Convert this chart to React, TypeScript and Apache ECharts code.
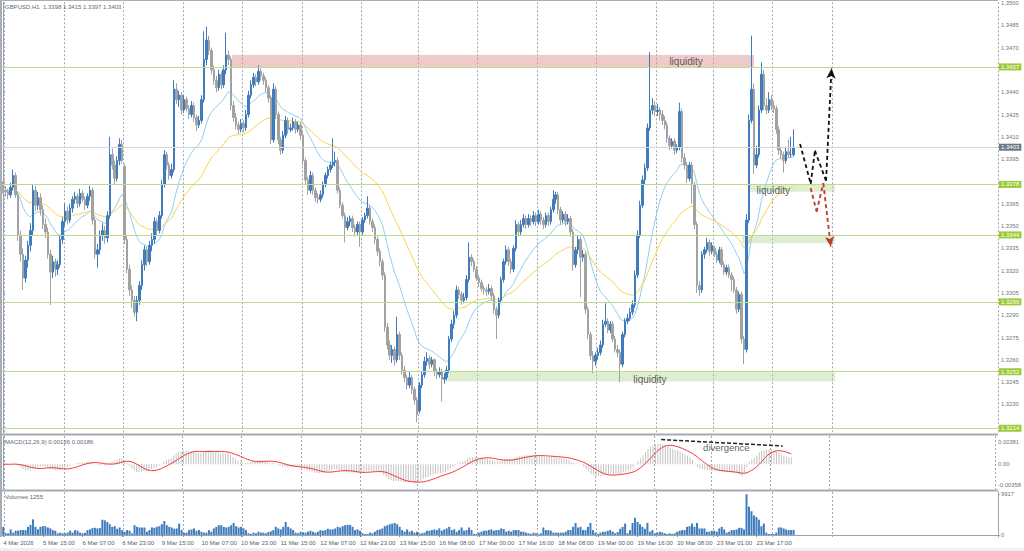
import React, { useEffect, useRef } from "react";
import * as echarts from "echarts";

// ---------- time axis (H1 bars, trading hours only) ----------
const tradingDays: [string, number, number][] = [
  ["4 Mar", 23, 23], ["5 Mar", 0, 23], ["6 Mar", 0, 23], ["9 Mar", 0, 23], ["10 Mar", 0, 23],
  ["11 Mar", 0, 23], ["12 Mar", 0, 23], ["13 Mar", 0, 22], ["16 Mar", 0, 23], ["17 Mar", 0, 23],
  ["18 Mar", 0, 23], ["19 Mar", 0, 23], ["20 Mar", 0, 22], ["23 Mar", 0, 23], ["24 Mar", 0, 23],
  ["25 Mar", 0, 23], ["26 Mar", 0, 23], ["27 Mar", 0, 22],
];
const SLOT_COUNT = 402;
const LAST_GRID_SLOT = 335;
const LABEL_STEP = 16;
const LAST_LABEL_SLOT = 304;
const FIRST_LABEL = "4 Mar 2026";

// ---------- candles ----------
const opens = [
  1.3378,1.3374,1.3373,1.3371,1.3376,1.3384,1.3371,1.3344,1.3331,1.3315,
  1.3327,1.3337,1.3347,1.3374,1.3364,1.3369,1.3361,1.3351,1.3346,1.3331,
  1.3319,1.3326,1.3321,1.3324,1.3341,1.3353,1.3360,1.3354,1.3362,1.3368,
  1.3370,1.3365,1.3372,1.3368,1.3364,1.3370,1.3374,1.3354,1.3331,1.3334,
  1.3344,1.3347,1.3342,1.3357,1.3398,1.3391,1.3382,1.3394,1.3405,1.3390,
  1.3341,1.3321,1.3307,1.3300,1.3292,1.3300,1.3310,1.3324,1.3334,1.3326,
  1.3337,1.3341,1.3353,1.3347,1.3357,1.3378,1.3398,1.3391,1.3384,1.3388,
  1.3442,1.3435,1.3438,1.3428,1.3435,1.3429,1.3425,1.3431,1.3423,1.3418,
  1.3421,1.3435,1.3462,1.3475,1.3468,1.3455,1.3448,1.3443,1.3452,1.3445,
  1.3455,1.3465,1.3462,1.3431,1.3423,1.3418,1.3415,1.3419,1.3416,1.3425,
  1.3438,1.3445,1.3450,1.3447,1.3454,1.3451,1.3448,1.3443,1.3436,1.3408,
  1.3442,1.3425,1.3408,1.3401,1.3411,1.3421,1.3415,1.3416,1.3420,1.3415,
  1.3418,1.3411,1.3394,1.3381,1.3374,1.3384,1.3374,1.3369,1.3368,1.3371,
  1.3378,1.3384,1.3388,1.3391,1.3393,1.3394,1.3374,1.3364,1.3357,1.3349,
  1.3353,1.3355,1.3349,1.3346,1.3351,1.3346,1.3354,1.3357,1.3362,1.3353,
  1.3349,1.3341,1.3333,1.3326,1.3317,1.3282,1.3270,1.3263,1.3267,1.3260,
  1.3277,1.3263,1.3253,1.3248,1.3243,1.3248,1.3240,1.3233,1.3226,1.3243,
  1.3250,1.3259,1.3261,1.3257,1.3260,1.3252,1.3250,1.3252,1.3247,1.3248,
  1.3253,1.3274,1.3284,1.3290,1.3307,1.3304,1.3300,1.3302,1.3314,1.3329,
  1.3326,1.3321,1.3315,1.3312,1.3308,1.3307,1.3306,1.3308,1.3303,1.3294,
  1.3290,1.3300,1.3314,1.3326,1.3334,1.3326,1.3321,1.3335,1.3351,1.3346,
  1.3351,1.3355,1.3351,1.3355,1.3353,1.3357,1.3353,1.3358,1.3354,1.3351,
  1.3357,1.3353,1.3361,1.3368,1.3371,1.3361,1.3354,1.3358,1.3353,1.3355,
  1.3346,1.3324,1.3334,1.3341,1.3329,1.3331,1.3294,1.3277,1.3263,1.3259,
  1.3263,1.3265,1.3270,1.3284,1.3286,1.3280,1.3284,1.3274,1.3267,1.3265,
  1.3257,1.3277,1.3286,1.3288,1.3292,1.3297,1.3317,1.3344,1.3364,1.3381,
  1.3389,1.3416,1.3428,1.3431,1.3427,1.3428,1.3425,1.3421,1.3418,1.3409,
  1.3404,1.3407,1.3401,1.3403,1.3427,1.3396,1.3391,1.3382,1.3391,1.3378,
  1.3351,1.3310,1.3307,1.3331,1.3334,1.3339,1.3333,1.3335,1.3331,1.3327,
  1.3334,1.3324,1.3319,1.3322,1.3317,1.3314,1.3307,1.3294,1.3304,1.3274,
  1.3267,1.3354,1.3421,1.3442,1.3391,1.3398,1.3428,1.3452,1.3431,1.3428,
  1.3435,1.3431,1.3429,1.3415,1.3401,1.3398,1.3394,1.3400,1.3398,1.3398,
];
const highs = [
  1.3380,1.3377,1.3375,1.3379,1.3388,1.3386,1.3373,1.3347,1.3335,1.3330,
  1.3340,1.3352,1.3378,1.3377,1.3373,1.3372,1.3364,1.3355,1.3349,1.3334,
  1.3330,1.3328,1.3327,1.3344,1.3356,1.3365,1.3363,1.3365,1.3370,1.3373,
  1.3372,1.3375,1.3374,1.3370,1.3372,1.3377,1.3376,1.3356,1.3338,1.3347,
  1.3352,1.3350,1.3360,1.3410,1.3402,1.3394,1.3397,1.3409,1.3408,1.3392,
  1.3344,1.3324,1.3310,1.3303,1.3303,1.3313,1.3327,1.3337,1.3336,1.3340,
  1.3345,1.3356,1.3355,1.3360,1.3381,1.3401,1.3400,1.3393,1.3392,1.3448,
  1.3446,1.3441,1.3440,1.3438,1.3437,1.3431,1.3434,1.3433,1.3425,1.3424,
  1.3438,1.3481,1.3484,1.3478,1.3470,1.3458,1.3451,1.3455,1.3454,1.3458,
  1.3480,1.3468,1.3464,1.3434,1.3426,1.3420,1.3422,1.3421,1.3428,1.3441,
  1.3448,1.3453,1.3452,1.3458,1.3456,1.3453,1.3450,1.3445,1.3438,1.3446,
  1.3444,1.3427,1.3410,1.3414,1.3424,1.3423,1.3419,1.3423,1.3422,1.3420,
  1.3420,1.3413,1.3396,1.3383,1.3387,1.3386,1.3376,1.3372,1.3374,1.3380,
  1.3386,1.3390,1.3393,1.3409,1.3400,1.3396,1.3376,1.3366,1.3359,1.3356,
  1.3357,1.3357,1.3351,1.3353,1.3353,1.3356,1.3359,1.3370,1.3364,1.3355,
  1.3351,1.3343,1.3335,1.3328,1.3319,1.3285,1.3273,1.3270,1.3269,1.3289,
  1.3279,1.3265,1.3256,1.3250,1.3252,1.3250,1.3242,1.3235,1.3245,1.3252,
  1.3262,1.3265,1.3263,1.3262,1.3261,1.3254,1.3255,1.3254,1.3251,1.3256,
  1.3276,1.3287,1.3293,1.3310,1.3309,1.3306,1.3305,1.3317,1.3339,1.3331,
  1.3328,1.3323,1.3317,1.3314,1.3310,1.3309,1.3311,1.3310,1.3305,1.3296,
  1.3302,1.3316,1.3328,1.3337,1.3336,1.3328,1.3337,1.3354,1.3353,1.3354,
  1.3358,1.3357,1.3358,1.3357,1.3360,1.3359,1.3361,1.3360,1.3356,1.3359,
  1.3359,1.3363,1.3374,1.3373,1.3373,1.3363,1.3360,1.3360,1.3358,1.3357,
  1.3348,1.3336,1.3344,1.3343,1.3334,1.3333,1.3296,1.3279,1.3266,1.3265,
  1.3268,1.3273,1.3287,1.3298,1.3288,1.3286,1.3286,1.3276,1.3270,1.3267,
  1.3279,1.3288,1.3291,1.3295,1.3300,1.3320,1.3347,1.3367,1.3384,1.3392,
  1.3419,1.3467,1.3436,1.3434,1.3432,1.3430,1.3428,1.3424,1.3420,1.3411,
  1.3409,1.3409,1.3405,1.3433,1.3429,1.3399,1.3393,1.3393,1.3393,1.3380,
  1.3353,1.3313,1.3333,1.3336,1.3342,1.3341,1.3339,1.3337,1.3333,1.3336,
  1.3336,1.3326,1.3324,1.3324,1.3319,1.3316,1.3309,1.3306,1.3306,1.3276,
  1.3358,1.3425,1.3478,1.3446,1.3404,1.3431,1.3460,1.3455,1.3436,1.3440,
  1.3438,1.3434,1.3431,1.3417,1.3403,1.3400,1.3403,1.3408,1.3410,1.3415,
];
const lows = [
  1.3372,1.3370,1.3368,1.3369,1.3374,1.3369,1.3340,1.3326,1.3307,1.3312,
  1.3322,1.3333,1.3344,1.3360,1.3361,1.3357,1.3348,1.3342,1.3328,1.3297,
  1.3315,1.3316,1.3317,1.3322,1.3338,1.3350,1.3351,1.3352,1.3359,1.3365,
  1.3362,1.3363,1.3366,1.3361,1.3362,1.3367,1.3351,1.3328,1.3322,1.3331,
  1.3340,1.3338,1.3339,1.3355,1.3388,1.3378,1.3380,1.3391,1.3392,1.3338,
  1.3318,1.3303,1.3295,1.3289,1.3286,1.3297,1.3307,1.3320,1.3323,1.3324,
  1.3333,1.3338,1.3344,1.3345,1.3355,1.3376,1.3388,1.3381,1.3382,1.3386,
  1.3432,1.3430,1.3425,1.3426,1.3427,1.3422,1.3423,1.3420,1.3414,1.3416,
  1.3419,1.3433,1.3458,1.3465,1.3452,1.3445,1.3440,1.3441,1.3442,1.3443,
  1.3452,1.3458,1.3428,1.3420,1.3415,1.3412,1.3413,1.3413,1.3414,1.3423,
  1.3436,1.3443,1.3444,1.3445,1.3448,1.3445,1.3440,1.3433,1.3405,1.3406,
  1.3422,1.3405,1.3398,1.3399,1.3409,1.3412,1.3413,1.3414,1.3412,1.3413,
  1.3408,1.3391,1.3378,1.3371,1.3372,1.3371,1.3366,1.3365,1.3366,1.3369,
  1.3376,1.3382,1.3386,1.3389,1.3390,1.3372,1.3362,1.3355,1.3339,1.3347,
  1.3350,1.3346,1.3343,1.3344,1.3336,1.3344,1.3352,1.3355,1.3351,1.3346,
  1.3338,1.3330,1.3323,1.3314,1.3279,1.3267,1.3260,1.3258,1.3256,1.3258,
  1.3260,1.3250,1.3245,1.3240,1.3241,1.3237,1.3230,1.3218,1.3224,1.3241,
  1.3248,1.3256,1.3254,1.3255,1.3249,1.3247,1.3248,1.3232,1.3244,1.3246,
  1.3251,1.3272,1.3281,1.3288,1.3301,1.3297,1.3298,1.3300,1.3312,1.3323,
  1.3319,1.3313,1.3309,1.3306,1.3304,1.3303,1.3304,1.3300,1.3291,1.3274,
  1.3288,1.3298,1.3312,1.3324,1.3323,1.3318,1.3319,1.3333,1.3343,1.3344,
  1.3349,1.3348,1.3349,1.3350,1.3351,1.3350,1.3351,1.3351,1.3348,1.3349,
  1.3350,1.3351,1.3359,1.3365,1.3358,1.3351,1.3352,1.3350,1.3351,1.3343,
  1.3320,1.3322,1.3331,1.3302,1.3326,1.3291,1.3274,1.3260,1.3251,1.3256,
  1.3260,1.3263,1.3268,1.3282,1.3278,1.3278,1.3272,1.3265,1.3262,1.3245,
  1.3255,1.3275,1.3284,1.3286,1.3290,1.3295,1.3315,1.3342,1.3362,1.3378,
  1.3387,1.3414,1.3425,1.3424,1.3424,1.3421,1.3418,1.3415,1.3406,1.3401,
  1.3402,1.3398,1.3399,1.3401,1.3393,1.3388,1.3379,1.3380,1.3365,1.3348,
  1.3305,1.3303,1.3305,1.3328,1.3332,1.3330,1.3331,1.3329,1.3325,1.3325,
  1.3322,1.3317,1.3317,1.3315,1.3306,1.3305,1.3291,1.3292,1.3271,1.3257,
  1.3265,1.3352,1.3419,1.3385,1.3389,1.3396,1.3426,1.3428,1.3425,1.3426,
  1.3428,1.3426,1.3412,1.3398,1.3395,1.3386,1.3392,1.3396,1.3396,1.3397,
];
const closes = [
  1.3374,1.3373,1.3371,1.3376,1.3384,1.3371,1.3344,1.3331,1.3315,1.3327,
  1.3337,1.3347,1.3374,1.3364,1.3369,1.3361,1.3351,1.3346,1.3331,1.3319,
  1.3326,1.3321,1.3324,1.3341,1.3353,1.3360,1.3354,1.3362,1.3368,1.3370,
  1.3365,1.3372,1.3368,1.3364,1.3370,1.3374,1.3354,1.3331,1.3334,1.3344,
  1.3347,1.3342,1.3357,1.3398,1.3391,1.3382,1.3394,1.3405,1.3394,1.3341,
  1.3321,1.3307,1.3300,1.3292,1.3300,1.3310,1.3324,1.3334,1.3326,1.3337,
  1.3341,1.3353,1.3347,1.3357,1.3378,1.3398,1.3391,1.3384,1.3388,1.3442,
  1.3435,1.3438,1.3428,1.3435,1.3429,1.3425,1.3431,1.3423,1.3418,1.3421,
  1.3435,1.3462,1.3475,1.3468,1.3455,1.3448,1.3443,1.3452,1.3445,1.3455,
  1.3465,1.3462,1.3431,1.3423,1.3418,1.3415,1.3419,1.3416,1.3425,1.3438,
  1.3445,1.3450,1.3447,1.3454,1.3451,1.3448,1.3443,1.3436,1.3408,1.3442,
  1.3425,1.3408,1.3401,1.3411,1.3421,1.3415,1.3416,1.3420,1.3415,1.3418,
  1.3411,1.3394,1.3381,1.3374,1.3384,1.3374,1.3369,1.3368,1.3371,1.3378,
  1.3384,1.3388,1.3391,1.3393,1.3394,1.3374,1.3364,1.3357,1.3349,1.3353,
  1.3355,1.3349,1.3346,1.3351,1.3346,1.3354,1.3357,1.3362,1.3353,1.3349,
  1.3341,1.3333,1.3326,1.3317,1.3282,1.3270,1.3263,1.3267,1.3260,1.3277,
  1.3263,1.3253,1.3248,1.3243,1.3248,1.3240,1.3233,1.3223,1.3243,1.3250,
  1.3259,1.3261,1.3257,1.3260,1.3252,1.3250,1.3252,1.3247,1.3248,1.3253,
  1.3274,1.3284,1.3290,1.3307,1.3304,1.3300,1.3302,1.3314,1.3329,1.3326,
  1.3321,1.3315,1.3312,1.3308,1.3307,1.3306,1.3308,1.3303,1.3294,1.3290,
  1.3300,1.3314,1.3326,1.3334,1.3326,1.3321,1.3335,1.3351,1.3346,1.3351,
  1.3355,1.3351,1.3355,1.3353,1.3357,1.3353,1.3358,1.3354,1.3351,1.3357,
  1.3353,1.3361,1.3368,1.3371,1.3361,1.3354,1.3358,1.3353,1.3355,1.3346,
  1.3324,1.3334,1.3341,1.3329,1.3331,1.3294,1.3277,1.3263,1.3259,1.3263,
  1.3265,1.3270,1.3284,1.3286,1.3280,1.3284,1.3274,1.3267,1.3265,1.3257,
  1.3277,1.3286,1.3288,1.3292,1.3297,1.3317,1.3344,1.3364,1.3381,1.3389,
  1.3416,1.3428,1.3431,1.3427,1.3428,1.3425,1.3421,1.3418,1.3409,1.3404,
  1.3407,1.3401,1.3403,1.3427,1.3396,1.3391,1.3382,1.3391,1.3378,1.3351,
  1.3310,1.3307,1.3331,1.3334,1.3339,1.3333,1.3337,1.3331,1.3327,1.3334,
  1.3324,1.3319,1.3322,1.3317,1.3314,1.3307,1.3294,1.3304,1.3274,1.3267,
  1.3354,1.3421,1.3442,1.3391,1.3398,1.3428,1.3452,1.3431,1.3428,1.3435,
  1.3431,1.3429,1.3415,1.3401,1.3398,1.3394,1.3400,1.3398,1.3398,1.3403,
];
const volumes = [
  1980,400,400,1350,560,1030,1030,1190,1190,1190,
  1980,2460,3810,1980,1350,1980,2140,2140,1820,1590,
  1190,1030,400,560,400,400,560,1030,560,1190,
  1030,560,400,560,1190,1350,1670,1740,1590,1670,
  3730,3570,3170,2620,1980,2140,1510,1820,1190,790,
  1190,1030,400,2380,1980,1820,1820,1820,790,1190,
  1820,1740,1980,2140,2620,3410,2380,1980,1820,1510,
  1590,2780,1190,560,560,1190,1350,1590,1030,1190,
  790,560,560,1190,790,1590,1980,2380,2380,1980,
  1820,1980,2380,2930,2140,1820,1980,1590,1190,400,
  240,560,400,790,560,560,400,710,870,1190,
  1980,1590,1350,1980,3170,1980,1590,1190,560,400,
  790,630,560,790,1030,790,560,790,1190,1030,
  1190,1510,1350,1350,1590,1980,1820,2140,2380,2460,
  2460,1980,1190,1350,1030,400,240,240,560,400,
  790,1190,1350,1590,2140,2380,2620,2780,2930,2620,
  1980,1190,790,1350,790,1030,560,790,400,400,
  560,1030,1030,1190,1350,1190,1590,1030,1350,1590,
  1980,1190,1350,790,1190,1820,1030,1190,1820,1190,
  240,240,560,790,1030,1030,1190,1350,1030,1190,
  1190,1590,1430,790,1030,790,1190,1190,1190,790,
  790,560,400,240,560,400,240,400,1820,1190,
  1190,1030,560,560,560,560,560,790,1190,1190,
  1980,2930,1820,1980,1190,1190,1980,2930,1190,560,
  240,560,790,790,1030,1190,790,400,710,1510,
  1980,2780,400,1190,2930,4200,3170,2620,1980,1510,
  2930,790,1190,400,560,790,630,400,240,400,
  240,400,790,1030,1190,1190,1980,2140,2780,1980,
  2930,1590,1590,1590,790,790,1030,1030,790,1590,
  1980,1350,560,790,1190,1190,1350,1740,1740,1350,
  9917,6900,5790,4760,4360,3730,2140,2780,560,240,
  240,240,560,1820,1820,1590,1350,1190,1190,1255,
];

// ---------- axis ticks & levels ----------
const priceTicks = [1.35, 1.3485, 1.347, 1.3455, 1.344, 1.3425, 1.341, 1.3395, 1.338, 1.3365,
  1.335, 1.3335, 1.332, 1.3305, 1.329, 1.3275, 1.326, 1.3245, 1.323, 1.3215];
// tick labels that are not covered by the level markers on the price scale
const priceLabels = [1.35, 1.3485, 1.347, 1.344, 1.3425, 1.341, 1.3395, 1.3365,
  1.335, 1.3335, 1.332, 1.3305, 1.329, 1.3275, 1.326, 1.3245, 1.323];
const macdTicks = [0.00381, 0, -0.00358];
const volumeTicks = [9917, 0];
const levels = [1.3457, 1.3378, 1.3344, 1.3299, 1.3252, 1.3214];
const currentPrice = 1.3403;

// ---------- drawn annotations (bar index, price) ----------
const zones: { x0: number; x1: number; y0: number; y1: number; kind: string }[] = [
  { x0: 92.3, x1: 303.0, y0: 1.3465, y1: 1.3457, kind: "sell" },
  { x0: 301.4, x1: 335.7, y0: 1.3378, y1: 1.3373, kind: "buy" },
  { x0: 298.2, x1: 335.7, y0: 1.3344, y1: 1.33385, kind: "buy" },
  { x0: 179.6, x1: 335.7, y0: 1.3252, y1: 1.32455, kind: "buy" },
];
const liquidityLabels: [number, number][] = [[275.6, 1.34605], [310.8, 1.33736], [261.0, 1.32471]];
const blackPath: [number, number][] = [[321.6, 1.34052], [325.9, 1.33784], [327.6, 1.34007], [332.1, 1.33804], [334.3, 1.3456]];
const redPath: [number, number][] = [[325.9, 1.33755], [328.3, 1.33597], [331.0, 1.33788], [334.0, 1.33362]];
const divergenceLine: [number, number][] = [[266.3, 0.00423], [315.5, 0.00313]];
const divergenceLabel: [number, number] = [292.7, 0.00283];

function buildCategories(): string[] {
  const out: string[] = [];
  tradingDays.forEach(([d, h0, h1]) => {
    for (let h = h0; h <= h1; h++) out.push(`${d} ${String(h).padStart(2, "0")}:00`);
  });
  return out.slice(0, SLOT_COUNT);
}

function ema(values: number[], period: number): number[] {
  const k = 2 / (period + 1);
  const out: number[] = [];
  let prev = values[0];
  values.forEach((v, i) => {
    prev = i === 0 ? v : prev + k * (v - prev);
    out.push(prev);
  });
  return out;
}
function sma(values: number[], period: number): number[] {
  return values.map((_, i) => {
    const s = Math.max(0, i - period + 1);
    let sum = 0;
    for (let j = s; j <= i; j++) sum += values[j];
    return sum / (i - s + 1);
  });
}

function pathSegments(path: [number, number][], color: string) {
  const segs: any[] = [];
  for (let k = 0; k < path.length - 1; k++) {
    const last = k === path.length - 2;
    segs.push([
      { coord: path[k], symbol: "none" },
      { coord: path[k + 1], symbol: last ? "arrow" : "none", symbolSize: last ? [7, 10] : 0,
        lineStyle: { color, width: 1.8, type: [4, 3] } },
    ]);
  }
  return segs;
}

export default function App() {
  const ref = useRef<HTMLDivElement>(null);
  useEffect(() => {
    if (!ref.current) return;
    const chart = echarts.init(ref.current, undefined, { renderer: "svg" });
    const categories = buildCategories();
    const ohlc = opens.map((o, i) => [o, closes[i], lows[i], highs[i]]);
    const ema20 = ema(closes, 20).map((v) => +v.toFixed(5));
    const ema50 = ema(closes, 50).map((v) => +v.toFixed(5));
    const e12 = ema(closes, 12);
    const e26 = ema(closes, 26);
    const macdMain = e12.map((v, i) => v - e26[i]);
    const macdSignal = sma(macdMain, 9);

    const FONT = "Liberation Sans, Arial, sans-serif";
    const small = { fontSize: 6, color: "#5f6973", fontWeight: "normal" as const, fontFamily: FONT };
    const gridFn = (i: number) => i <= LAST_GRID_SLOT && categories[i].endsWith(" 00:00");
    const labelFn = (i: number) => i % LABEL_STEP === 0 && i <= LAST_LABEL_SLOT;
    const dashed = { show: true, interval: gridFn, lineStyle: { color: "#a0a7ae", type: [2, 2], width: 1 } };
    const axisGray = "#9ba4ae";
    const hiddenCat = (g: number) => ({
      type: "category", gridIndex: g, data: categories, boundaryGap: true,
      axisLine: { show: false }, axisTick: { show: false }, axisLabel: { show: false }, splitLine: dashed,
    });
    const hiddenVal = (g: number) => ({ type: "value", gridIndex: g, min: -0.5, max: SLOT_COUNT - 0.5, show: false });
    const yCommon = {
      position: "right", axisLine: { show: true, lineStyle: { color: axisGray } },
      splitLine: { show: false },
    };

    const xL = -0.5;
    const xR = SLOT_COUNT - 0.5;
    const levelLines: any[] = levels.map((v) => [
      { coord: [xL, v], label: { formatter: v.toFixed(4) } },
      { coord: [xR, v] },
    ]);
    levelLines.push([
      {
        coord: [xL, currentPrice],
        lineStyle: { color: "#d2d5d9", width: 1 },
        label: { formatter: currentPrice.toFixed(4), backgroundColor: "#6c7888" },
      },
      { coord: [xR, currentPrice] },
    ]);

    const option: any = {
      animation: false,
      backgroundColor: "#ffffff",
      textStyle: { fontFamily: FONT },
      title: [
        { text: "GBPUSD,H1  1.3398 1.3415 1.3397 1.3403", left: 5, top: 4, padding: 0, textStyle: small },
        { text: "MACD(12,26,9) 0.00136 0.00186", left: 5, top: 439, padding: 0, textStyle: small },
        { text: "Volumes 1255", left: 5, top: 494, padding: 0, textStyle: small },
      ],
      grid: [
        { left: 2, top: 2, width: 996, height: 431 },
        { left: 2, top: 436, width: 996, height: 53 },
        { left: 2, top: 492, width: 996, height: 45 },
      ],
      xAxis: [
        hiddenCat(0),
        hiddenVal(0),
        hiddenCat(1),
        hiddenVal(1),
        {
          type: "category", gridIndex: 2, data: categories, boundaryGap: true,
          axisLine: { show: true, lineStyle: { color: axisGray } },
          axisTick: { show: true, interval: labelFn, alignWithLabel: true, length: 2, lineStyle: { color: "#7f8891" } },
          axisLabel: {
            show: true, interval: labelFn, align: "left", fontSize: 6, color: "#56606a", margin: 3, fontFamily: FONT,
            formatter: (v: string, i: number) => (i === 0 ? FIRST_LABEL : v),
          },
          splitLine: dashed,
        },
      ],
      yAxis: [
        {
          ...yCommon, type: "value", gridIndex: 0, min: 1.32108, max: 1.35005,
          axisTick: { show: true, customValues: priceTicks, length: 2, lineStyle: { color: axisGray } },
          axisLabel: { customValues: priceLabels, formatter: (v: number) => v.toFixed(4), fontSize: 5.8, color: "#6b747e", margin: 3, fontFamily: FONT },
        },
        {
          ...yCommon, type: "value", gridIndex: 1, min: -0.004262, max: 0.004846,
          axisTick: { show: true, customValues: macdTicks, length: 2, lineStyle: { color: axisGray } },
          axisLabel: { customValues: macdTicks, formatter: (v: number) => (v === 0 ? "0.00" : v.toFixed(5)), fontSize: 5.8, color: "#6b747e", margin: 3, fontFamily: FONT },
        },
        {
          ...yCommon, type: "value", gridIndex: 2, min: -500, max: 10480,
          axisTick: { show: true, customValues: volumeTicks, length: 2, lineStyle: { color: axisGray } },
          axisLabel: { customValues: volumeTicks, formatter: (v: number) => String(v), fontSize: 5.8, color: "#6b747e", margin: 3, fontFamily: FONT },
        },
      ],
      series: [
        {
          type: "scatter", name: "zones", xAxisIndex: 1, yAxisIndex: 0, z: 1, data: [],
          symbolSize: 0, silent: true,
          markArea: {
            silent: true,
            data: zones.map((z) => [
              { coord: [z.x0, z.y0], itemStyle: { color: z.kind === "sell" ? "rgba(222,150,150,0.5)" : "rgba(176,212,140,0.4)" } },
              { coord: [z.x1, z.y1] },
            ]),
          },
        },
        {
          type: "candlestick", xAxisIndex: 0, yAxisIndex: 0, z: 3, data: ohlc, barWidth: 2,
          itemStyle: { color: "#3f7cbd", color0: "#a2a2a2", borderColor: "#3f7cbd", borderColor0: "#a2a2a2", borderWidth: 1 },
        },
        { type: "line", xAxisIndex: 0, yAxisIndex: 0, z: 2, data: ema20, showSymbol: false, lineStyle: { color: "#8fcff0", width: 1 } },
        { type: "line", xAxisIndex: 0, yAxisIndex: 0, z: 2, data: ema50, showSymbol: false, lineStyle: { color: "#f5d54a", width: 1 } },
        {
          type: "scatter", name: "levels", xAxisIndex: 1, yAxisIndex: 0, z: 4, data: [],
          symbolSize: 0, silent: true,
          markLine: {
            silent: true, symbol: ["none", "none"], animation: false,
            lineStyle: { color: "#bcdb8c", width: 1.2, type: "solid" },
            label: { show: true, position: "end", distance: 1, backgroundColor: "#9acb34", color: "#ffffff", fontSize: 6, padding: [1, 2, 0, 2], fontFamily: FONT },
            data: levelLines,
          },
        },
        {
          type: "scatter", name: "notes", xAxisIndex: 1, yAxisIndex: 0, z: 6, silent: true,
          symbolSize: 1, itemStyle: { color: "rgba(0,0,0,0)" },
          data: liquidityLabels.map((p) => ({ value: p, name: "liquidity" })),
          label: { show: true, position: "inside", formatter: "{b}", fontSize: 10, color: "#333333", fontFamily: FONT },
          markLine: {
            silent: true, symbol: ["none", "none"], animation: false,
            label: { show: false },
            data: [...pathSegments(blackPath, "#111111"), ...pathSegments(redPath, "#c0392b")],
          },
        },
        { type: "bar", xAxisIndex: 2, yAxisIndex: 1, data: macdMain.map((v) => +v.toFixed(6)), barWidth: 1, itemStyle: { color: "#c4c4c4" } },
        { type: "line", xAxisIndex: 2, yAxisIndex: 1, data: macdSignal.map((v) => +v.toFixed(6)), showSymbol: false, lineStyle: { color: "#ee3b35", width: 1 } },
        {
          type: "scatter", xAxisIndex: 3, yAxisIndex: 1, z: 6, silent: true,
          symbolSize: 1, itemStyle: { color: "rgba(0,0,0,0)" },
          data: [{ value: divergenceLabel, name: "divergence" }],
          label: { show: true, position: "inside", formatter: "{b}", fontSize: 9.5, color: "#333333", fontFamily: FONT },
          markLine: {
            silent: true, symbol: ["none", "none"], animation: false, label: { show: false },
            lineStyle: { color: "#222222", width: 1.5, type: [4, 2] },
            data: [[{ coord: divergenceLine[0] }, { coord: divergenceLine[1] }]],
          },
        },
        { type: "bar", xAxisIndex: 4, yAxisIndex: 2, data: volumes, barWidth: 2, itemStyle: { color: "#3f7cbd" } },
      ],
      graphic: [
        { type: "line", z: 50, shape: { x1: 0, y1: 0.5, x2: 998, y2: 0.5 }, style: { stroke: "#a8aeb5", lineWidth: 1 } },
        { type: "line", z: 50, shape: { x1: 1, y1: 0, x2: 1, y2: 537 }, style: { stroke: "#a8aeb5", lineWidth: 2 } },
        { type: "line", z: 50, shape: { x1: 0, y1: 434.5, x2: 998, y2: 434.5 }, style: { stroke: "#a4abb3", lineWidth: 2 } },
        { type: "line", z: 50, shape: { x1: 0, y1: 490.5, x2: 998, y2: 490.5 }, style: { stroke: "#a4abb3", lineWidth: 2 } },
        { type: "rect", z: 50, shape: { x: 0, y: 548, width: 1024, height: 3 }, style: { fill: "#f0f0f0" } },
      ],
    };
    chart.setOption(option);
    return () => chart.dispose();
  }, []);
  return (
    <div
      ref={ref}
      style={{ position: "fixed", left: 0, top: 0, width: 1024, height: 551, background: "#ffffff" }}
    />
  );
}
